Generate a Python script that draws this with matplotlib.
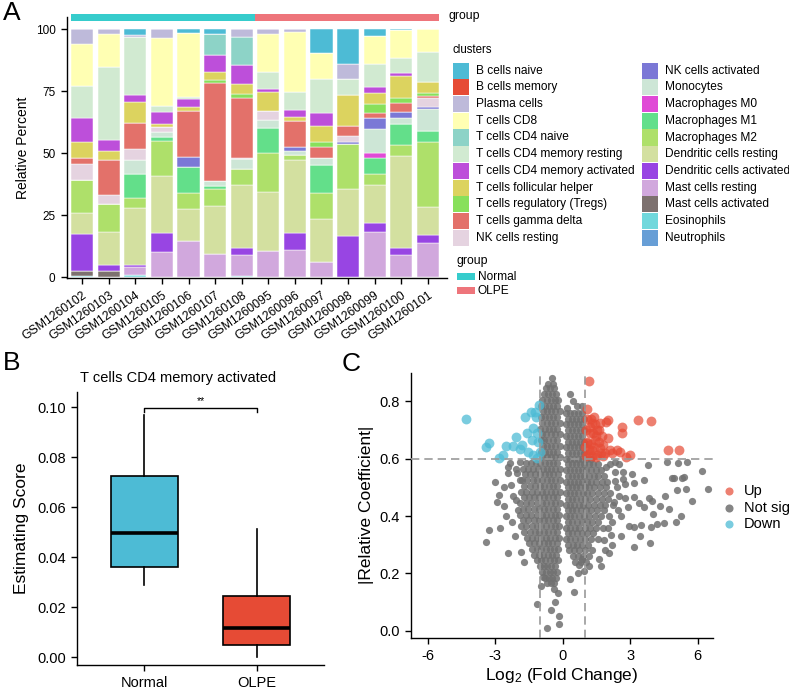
import matplotlib
matplotlib.use('Agg')
import matplotlib.pyplot as plt
import numpy as np
from matplotlib.patches import Rectangle

plt.rcParams['font.family'] = ['Liberation Sans', 'DejaVu Sans']
plt.rcParams['mathtext.default'] = 'regular'

# ---------------- Panel A data ----------------
samples = ['GSM1260102', 'GSM1260103', 'GSM1260104', 'GSM1260105', 'GSM1260106',
           'GSM1260107', 'GSM1260108', 'GSM1260095', 'GSM1260096', 'GSM1260097',
           'GSM1260098', 'GSM1260099', 'GSM1260100', 'GSM1260101']
sample_group = ['Normal'] * 7 + ['OLPE'] * 7

cell_types = ['B cells naive', 'B cells memory', 'Plasma cells', 'T cells CD8',
              'T cells CD4 naive', 'T cells CD4 memory resting',
              'T cells CD4 memory activated', 'T cells follicular helper',
              'T cells regulatory (Tregs)', 'T cells gamma delta', 'NK cells resting',
              'NK cells activated', 'Monocytes', 'Macrophages M0', 'Macrophages M1',
              'Macrophages M2', 'Dendritic cells resting', 'Dendritic cells activated',
              'Mast cells resting', 'Mast cells activated', 'Eosinophils', 'Neutrophils']
cell_colors = ['#4DBBD5', '#E64B35', '#BEBADA', '#FFFFB3', '#8DD3C7', '#D1EAD1',
               '#BD4FDA', '#DCD35F', '#88E05B', '#E3716A', '#E5D3E0', '#7B78D6',
               '#CDE6D6', '#E04AD6', '#63DF8A', '#AEE06A', '#D3E0A0', '#9845E3',
               '#D1A8DD', '#7D716F', '#71D8DC', '#679ED6']

b_naive      = [0, 0, 2.2, 0, 1.3, 2.0, 0, 0, 0, 9.7, 14.0, 2.7, 0.4, 0]
b_memory     = [0] * 14
plasma       = [5.9, 2.0, 0.9, 3.4, 0, 0, 3.1, 2.0, 1.2, 0, 6.2, 0, 0, 0]
cd8          = [16.8, 13.2, 0, 27.6, 26.1, 0, 0, 15.1, 24.1, 10.2, 0, 11.3, 11.3, 9.3]
cd4_naive    = [0, 0, 0, 0, 0, 8.2, 11.4, 0, 0, 0, 0, 0, 0, 0]
cd4_mem_rest = [13.2, 29.6, 23.5, 2.4, 0.8, 0, 0, 7.1, 7.1, 14.0, 6.5, 9.4, 6.0, 12.0]
cd4_mem_act  = [9.7, 4.4, 2.7, 4.8, 3.0, 6.9, 7.5, 1.1, 3.1, 5.1, 0, 2.2, 1.1, 0]
tfh          = [6.2, 3.6, 8.6, 1.3, 1.7, 3.2, 4.0, 7.7, 1.5, 6.5, 12.4, 4.7, 8.9, 4.4]
tregs        = [0, 0, 0, 0, 0, 1.5, 1.7, 0, 0, 2.2, 0, 3.5, 2.2, 1.2]
gamma_delta  = [2.6, 14.2, 10.5, 0, 18.4, 39.5, 24.3, 0, 10.3, 4.2, 3.8, 1.9, 3.5, 0.9]
nk_rest      = [6.5, 3.4, 4.3, 1.9, 0, 0, 0.4, 3.4, 0, 0, 2.7, 0, 0, 3.5]
nk_act       = [0, 0, 0, 0, 4.0, 0, 0, 0, 1.7, 0, 0.7, 4.7, 2.2, 0.9]
monocytes    = [0, 0, 5.5, 1.9, 0, 1.7, 3.8, 3.4, 1.6, 3.0, 0, 9.4, 2.8, 8.7]
mac_m0       = [0, 0, 0, 0, 0, 0, 0, 0, 0, 0, 0, 2.0, 0, 0]
mac_m1       = [0, 0, 9.7, 1.9, 10.5, 1.3, 0, 10.3, 0, 11.2, 0, 6.6, 8.2, 4.4]
mac_m2       = [13.4, 11.4, 4.0, 14.0, 6.6, 6.9, 6.5, 15.6, 2.0, 10.8, 18.3, 4.3, 4.6, 26.2]
dc_rest      = [8.2, 13.2, 23.1, 23.0, 13.0, 19.4, 25.5, 23.8, 29.4, 17.2, 18.8, 15.5, 37.1, 11.3]
dc_act       = [15.1, 2.4, 0.7, 7.7, 0, 0, 3.0, 0, 6.7, 0, 16.8, 3.6, 2.8, 3.1]
mast_rest    = [0, 0, 3.5, 9.9, 14.5, 9.4, 8.1, 10.6, 11.2, 6.2, 0, 18.3, 9.0, 14.0]
mast_act     = [2.0, 2.6, 0, 0, 0, 0, 0, 0, 0, 0, 0, 0, 0, 0]
eosinophils  = [0.5, 0, 0.8, 0.3, 0, 0, 0.7, 0, 0, 0, 0, 0, 0, 0]
neutrophils  = [0] * 14

fractions = [b_naive, b_memory, plasma, cd8, cd4_naive, cd4_mem_rest, cd4_mem_act, tfh,
             tregs, gamma_delta, nk_rest, nk_act, monocytes, mac_m0, mac_m1, mac_m2,
             dc_rest, dc_act, mast_rest, mast_act, eosinophils, neutrophils]
group_colors = {'Normal': '#36CCCC', 'OLPE': '#EE757B'}

# ---------------- Panel B data ----------------
box_groups = ['Normal', 'OLPE']
box_colors = ['#4DBBD5', '#E64B35']
box_whislo = [0.0287, 0.0000]
box_q1     = [0.0360, 0.0047]
box_med    = [0.0496, 0.0115]
box_q3     = [0.0723, 0.0245]
box_whishi = [0.0969, 0.0512]

# ---------------- Panel C data ----------------
up_x = [1.17, 1.07, 1.39, 1.29, 1.66, 2.00, 1.92, 3.35, 3.91, 2.62, 2.62, 2.03, 1.51, 1.21,
        1.43, 1.07, 1.00, 1.66, 2.10, 2.40, 2.55, 2.99, 2.81, 4.69, 5.18, 1.29, 1.81, 1.14,
        1.51, 1.05, 1.20, 1.35, 1.50, 1.10, 1.25, 1.40, 1.60, 1.70, 1.15, 1.30, 1.50, 1.05,
        1.60, 1.80, 1.90, 2.20, 1.45, 1.25, 1.10, 1.75]
up_y = [0.872, 0.772, 0.746, 0.723, 0.723, 0.735, 0.729, 0.735, 0.733, 0.712, 0.691, 0.673,
        0.700, 0.688, 0.665, 0.654, 0.642, 0.636, 0.630, 0.630, 0.624, 0.613, 0.605, 0.630,
        0.632, 0.630, 0.647, 0.618, 0.613, 0.700, 0.710, 0.690, 0.680, 0.660, 0.650, 0.640,
        0.660, 0.620, 0.630, 0.610, 0.605, 0.610, 0.700, 0.610, 0.620, 0.620, 0.720, 0.740,
        0.740, 0.680]
down_x = [-4.30, -3.26, -3.41, -2.84, -2.64, -2.52, -2.08, -2.19, -1.89, -1.60, -1.67, -1.40,
          -1.22, -1.03, -1.18, -1.33, -1.16, -1.38, -1.08, -1.53, -1.30, -1.01, -1.16, -1.82]
down_y = [0.737, 0.656, 0.640, 0.604, 0.613, 0.646, 0.677, 0.644, 0.635, 0.689, 0.746, 0.764,
          0.764, 0.787, 0.746, 0.706, 0.689, 0.665, 0.659, 0.624, 0.613, 0.624, 0.604, 0.648]

# dense grey cloud, read row by row (y level, x positions)
grey_rows = [
    (0.880, [-0.49]),
    (0.860, [-0.64, -0.41]),
    (0.845, [-0.74, -0.55, -0.37]),
    (0.825, [-0.83, -0.66, -0.47, -0.29]),
    (0.805, [-0.90, -0.71, -0.52, -0.34, -0.19]),
    (0.785, [-0.97, -0.79, -0.60, -0.42, -0.24]),
    (0.765, [-0.88, -0.69, -0.51, -0.32, -0.13]),
    (0.745, [-0.98, -0.79, -0.61, -0.42, -0.23]),
    (0.725, [-0.90, -0.71, -0.52, -0.33, -0.12]),
    (0.705, [-0.99, -0.80, -0.62, -0.43, -0.24]),
    (0.685, [-0.91, -0.72, -0.53, -0.34, -0.14]),
    (0.665, [-0.97, -0.81, -0.63, -0.44, -0.25]),
    (0.645, [-0.89, -0.70, -0.52, -0.33, -0.12]),
    (0.625, [-0.98, -0.79, -0.61, -0.42, -0.23]),
    (0.605, [-0.90, -0.71, -0.52, -0.34, -0.13]),
    (0.585, [-1.62, -1.41, -1.20, -0.99, -0.80, -0.61, -0.42, -0.23]),
    (0.565, [-1.75, -1.52, -1.31, -1.10, -0.89, -0.70, -0.51, -0.32, -0.12]),
    (0.545, [-1.66, -1.43, -1.21, -1.00, -0.80, -0.61, -0.42, -0.22]),
    (0.525, [-1.80, -1.57, -1.34, -1.12, -0.91, -0.71, -0.52, -0.33, -0.13]),
    (0.505, [-1.70, -1.47, -1.24, -1.02, -0.81, -0.62, -0.43, -0.23]),
    (0.485, [-1.85, -1.61, -1.37, -1.14, -0.92, -0.72, -0.53, -0.34, -0.14]),
    (0.465, [-1.74, -1.50, -1.26, -1.03, -0.82, -0.63, -0.44, -0.24]),
    (0.445, [-1.88, -1.63, -1.39, -1.15, -0.93, -0.73, -0.53, -0.34, -0.13]),
    (0.425, [-1.76, -1.52, -1.27, -1.04, -0.83, -0.63, -0.44, -0.24]),
    (0.405, [-1.90, -1.64, -1.40, -1.16, -0.94, -0.74, -0.54, -0.35, -0.15]),
    (0.385, [-1.78, -1.53, -1.28, -1.05, -0.84, -0.64, -0.44, -0.25]),
    (0.365, [-1.86, -1.62, -1.38, -1.16, -0.95, -0.74, -0.54, -0.35, -0.15]),
    (0.345, [-1.70, -1.47, -1.25, -1.05, -0.85, -0.65, -0.45, -0.26]),
    (0.325, [-1.58, -1.36, -1.15, -0.95, -0.75, -0.55, -0.36, -0.17]),
    (0.305, [-1.49, -1.26, -1.05, -0.85, -0.66, -0.46, -0.27]),
    (0.285, [-1.38, -1.16, -0.95, -0.76, -0.57, -0.38, -0.19]),
    (0.265, [-1.27, -1.05, -0.86, -0.67, -0.48, -0.29]),
    (0.245, [-1.12, -0.95, -0.77, -0.58, -0.39, -0.22]),
    (0.225, [-0.99, -0.84, -0.68, -0.50, -0.32]),
    (0.205, [-0.90, -0.74, -0.58, -0.41, -0.25]),
    (0.185, [-0.78, -0.62, -0.47, -0.31]),
    (0.165, [-0.68, -0.52, -0.37]),
    (0.826, [0.32]),
    (0.800, [0.44]),
    (0.785, [0.84, 0.62]),
    (0.776, [0.18]),
    (0.760, [0.15, 0.33, 0.51, 0.69, 0.86]),
    (0.740, [0.24, 0.42, 0.60, 0.78, 0.95]),
    (0.720, [0.14, 0.32, 0.50, 0.68, 0.86]),
    (0.700, [0.23, 0.41, 0.59, 0.77, 0.94]),
    (0.680, [0.13, 0.31, 0.49, 0.67, 0.85]),
    (0.660, [0.22, 0.40, 0.58, 0.76, 0.93]),
    (0.640, [0.13, 0.31, 0.49, 0.67, 0.85]),
    (0.620, [0.22, 0.40, 0.58, 0.76, 0.94]),
    (0.600, [0.13, 0.31, 0.49, 0.67, 0.85, 1.05, 1.25]),
    (0.580, [0.22, 0.40, 0.58, 0.76, 0.95, 1.15, 1.36, 1.58]),
    (0.560, [0.13, 0.31, 0.49, 0.67, 0.86, 1.05, 1.26, 1.47, 1.70]),
    (0.540, [0.22, 0.40, 0.58, 0.77, 0.96, 1.16, 1.37, 1.59, 1.84]),
    (0.520, [0.13, 0.31, 0.49, 0.68, 0.87, 1.07, 1.28, 1.50, 1.74]),
    (0.500, [0.22, 0.40, 0.59, 0.78, 0.98, 1.19, 1.41, 1.65, 1.92]),
    (0.480, [0.13, 0.31, 0.50, 0.69, 0.89, 1.10, 1.32, 1.56, 1.82, 2.10]),
    (0.460, [0.22, 0.41, 0.60, 0.80, 1.01, 1.23, 1.47, 1.73, 2.00]),
    (0.440, [0.13, 0.32, 0.51, 0.71, 0.92, 1.14, 1.38, 1.64, 1.90, 2.25]),
    (0.420, [0.22, 0.41, 0.61, 0.82, 1.04, 1.28, 1.54, 1.82]),
    (0.400, [0.13, 0.32, 0.52, 0.73, 0.95, 1.18, 1.43, 1.70, 2.05]),
    (0.380, [0.22, 0.42, 0.62, 0.84, 1.07, 1.32, 1.58]),
    (0.360, [0.13, 0.33, 0.53, 0.74, 0.97, 1.21, 1.47, 1.80]),
    (0.340, [0.22, 0.42, 0.63, 0.85, 1.09, 1.35]),
    (0.320, [0.14, 0.34, 0.54, 0.76, 0.99, 1.24, 1.55]),
    (0.300, [0.23, 0.44, 0.65, 0.88, 1.12]),
    (0.280, [0.30, 0.52, 0.74, 0.98, 1.30]),
    (0.260, [0.45, 0.66, 0.90, 1.15]),
    (0.240, [0.55, 0.80, 1.05]),
]
# scattered grey points away from the dense cloud
grey_sparse_x = [-2.33, -2.44, -2.07, -3.02, -2.84, -2.92, -2.62, -3.27, -3.39, -2.43, -1.84,
                 -2.25, -2.09, -2.28, -2.03, -1.88, -1.14, -0.50, -0.18, -0.16, -0.70, -0.40,
                 -0.21, -0.86, 0.50, 0.34, 0.67, 0.93, 1.70, 0.73, 2.34, 1.94, 2.34, 3.81,
                 4.65, 5.11, 5.51, 6.21, 4.93, 5.41, 5.08, 5.47, 6.47, 5.76, 4.53, 3.82, 3.97,
                 4.34, 4.73, 5.24, 5.02, 4.49, 4.19, 4.01, 3.92, 3.42, 3.19, 3.87, 2.58, 2.16,
                 2.93, 3.17, 3.38, 3.16, 2.76, 2.76, 3.19, 3.60, 3.08, 2.68, 2.31, 1.82, 2.45,
                 2.60, 2.20, 2.00, 2.50, 2.90, 2.40, 2.10, 2.50, 1.90, 2.20, 1.60, 3.60, 3.50,
                 -2.60, -2.20, -2.50, -2.10, -1.70, -2.00, -2.45, -1.90, -2.80, -0.98, -0.35,
                 4.84, 5.31, 2.05, 2.30, 1.95, 2.70, 1.15, 0.85]
grey_sparse_y = [0.586, 0.549, 0.563, 0.520, 0.473, 0.450, 0.435, 0.352, 0.308, 0.270, 0.276,
                 0.380, 0.456, 0.510, 0.549, 0.526, 0.093, 0.072, 0.051, 0.022, 0.009, 0.144,
                 0.130, 0.186, 0.136, 0.179, 0.200, 0.209, 0.226, 0.229, 0.590, 0.570, 0.555,
                 0.578, 0.590, 0.584, 0.590, 0.558, 0.534, 0.535, 0.491, 0.493, 0.495, 0.453,
                 0.469, 0.462, 0.452, 0.436, 0.423, 0.400, 0.380, 0.377, 0.371, 0.407, 0.363,
                 0.330, 0.293, 0.305, 0.330, 0.334, 0.365, 0.363, 0.444, 0.467, 0.462, 0.512,
                 0.514, 0.526, 0.547, 0.555, 0.522, 0.316, 0.420, 0.400, 0.380, 0.360, 0.470,
                 0.430, 0.500, 0.580, 0.580, 0.280, 0.300, 0.250, 0.430, 0.370, 0.500, 0.470,
                 0.400, 0.330, 0.240, 0.420, 0.570, 0.590, 0.360, 0.155, 0.100, 0.531, 0.531,
                 0.270, 0.450, 0.520, 0.530, 0.225, 0.250]

# ---------------- figure ----------------
W, H = 789, 690
fig = plt.figure(figsize=(W / 100, H / 100), dpi=100)


def px_axes(l, t, r, b):
    return fig.add_axes([l / W, 1 - b / H, (r - l) / W, (b - t) / H])


def classic(ax, lw=1.0):
    for s in ['top', 'right']:
        ax.spines[s].set_visible(False)
    for s in ['left', 'bottom']:
        ax.spines[s].set_linewidth(lw)
    ax.tick_params(direction='out', length=4.5, width=lw, colors='black')


# ---- Panel A: stacked bars
axA = px_axes(66.7, 17, 447, 278.3)
xpos = np.arange(len(samples))
frac = np.array(fractions, dtype=float)
frac = frac / frac.sum(axis=0) * 100
bottom = np.zeros(len(samples))
for i in range(len(cell_types) - 1, -1, -1):
    axA.bar(xpos, frac[i], bottom=bottom, width=0.83, color=cell_colors[i],
            edgecolor='white', linewidth=0.35)
    bottom += frac[i]
axA.set_xlim(-0.58, 13.72)
axA.set_ylim(-0.4, 105)
axA.set_yticks([0, 25, 50, 75, 100])
axA.set_yticklabels(['0', '25', '50', '75', '100'], fontsize=8.5)
axA.set_xticks(xpos)
axA.set_xticklabels(samples, rotation=35, ha='right', va='top',
                    rotation_mode='anchor', fontsize=8.8)
axA.set_ylabel('Relative Percent', fontsize=10, labelpad=4)
classic(axA)

# group strip
axG = px_axes(71, 14, 439.5, 21)
for i, g in enumerate(sample_group):
    axG.bar(i, 1, width=1.0, align='edge', color=group_colors[g], linewidth=0)
axG.set_xlim(0, len(samples))
axG.set_ylim(0, 1)
axG.axis('off')

# ---- Panel B: boxplot
axB = px_axes(77, 391.7, 324, 665)
stats = []
for i in range(2):
    stats.append(dict(med=box_med[i], q1=box_q1[i], q3=box_q3[i],
                      whislo=box_whislo[i], whishi=box_whishi[i], fliers=[], label=box_groups[i]))
bp = axB.bxp(stats, positions=[1, 2], widths=0.6, patch_artist=True, showcaps=False,
             showfliers=False,
             boxprops=dict(linewidth=1.2, edgecolor='black'),
             whiskerprops=dict(linewidth=1.2, color='black'),
             medianprops=dict(color='black', linewidth=2.6))
for patch, c in zip(bp['boxes'], box_colors):
    patch.set_facecolor(c)
axB.set_xlim(0.4, 2.6)
axB.set_ylim(-0.0031, 0.1062)
axB.set_yticks([0, 0.02, 0.04, 0.06, 0.08, 0.10])
axB.set_yticklabels(['0.00', '0.02', '0.04', '0.06', '0.08', '0.10'], fontsize=10.5)
axB.set_xticks([1, 2])
axB.set_xticklabels(box_groups, fontsize=10.5)
axB.set_ylabel('Estimating Score', fontsize=12.5, labelpad=6)
classic(axB)
# significance bracket
axB.plot([1, 1, 2, 2], [0.0980, 0.0998, 0.0998, 0.0980], color='black', lw=1.0)
axB.text(1.5, 0.1003, '**', ha='center', va='bottom', fontsize=7.5)

# ---- Panel C: volcano
axC = px_axes(411, 372.7, 713, 637.7)
gx = [x for y, xs in grey_rows for x in xs] + grey_sparse_x
gy = [y for y, xs in grey_rows for x in xs] + grey_sparse_y
axC.scatter(gx, gy, s=27, color='#707070', alpha=0.85, linewidths=0, zorder=2)
axC.scatter(up_x, up_y, s=50, color='#E64B35', alpha=0.7, linewidths=0, zorder=3)
axC.scatter(down_x, down_y, s=50, color='#4DBBD5', alpha=0.75, linewidths=0, zorder=3)
for xv in (-1, 1):
    axC.axvline(xv, color='#999999', lw=1.2, ls=(0, (5, 3)), zorder=4)
axC.axhline(0.6, color='#999999', lw=1.2, ls=(0, (5, 3)), zorder=4)
axC.set_xlim(-6.74, 6.68)
axC.set_ylim(-0.0244, 0.90)
axC.set_xticks([-6, -3, 0, 3, 6])
axC.set_xticklabels(['-6', '-3', '0', '3', '6'], fontsize=10.5)
axC.set_yticks([0, 0.2, 0.4, 0.6, 0.8])
axC.set_yticklabels(['0.0', '0.2', '0.4', '0.6', '0.8'], fontsize=10.5)
axC.set_xlabel('Log$_2$ (Fold Change)', fontsize=12.5, labelpad=2)
axC.set_ylabel('|Relative Coefficient|', fontsize=12.5, labelpad=4)
classic(axC)

# ---- overlay for legends / labels (pixel coordinates)
ov = fig.add_axes([0, 0, 1, 1], zorder=10)
ov.set_xlim(0, W)
ov.set_ylim(H, 0)
ov.axis('off')
ov.patch.set_alpha(0)

ov.text(3, 13, 'A', fontsize=19, ha='left', va='center')
ov.text(3, 363, 'B', fontsize=19, ha='left', va='center')
ov.text(342, 364, 'C', fontsize=19, ha='left', va='center')
ov.text(178, 378, 'T cells CD4 memory activated', fontsize=10.5, ha='center', va='center')

# panel A legends
ov.text(449, 16.5, 'group', fontsize=8.8, ha='left', va='center')
ov.text(453, 50, 'clusters', fontsize=8.3, ha='left', va='center')
for i, (name, col) in enumerate(zip(cell_types, cell_colors)):
    c = i // 11
    r = i % 11
    kx = 453 if c == 0 else 641.7
    ky = 70.7 + r * 16.7
    ov.add_patch(Rectangle((kx, ky - 8.1), 16.5, 16.2, facecolor=col, edgecolor='none'))
    ov.text(kx + 23.5, ky, name, fontsize=8.6, ha='left', va='center')
ov.text(457, 261, 'group', fontsize=8.8, ha='left', va='center')
for j, g in enumerate(['Normal', 'OLPE']):
    ky = 276.7 + j * 14
    ov.add_patch(Rectangle((457, ky - 3.5), 18.5, 7, facecolor=group_colors[g], edgecolor='none'))
    ov.text(478, ky, g, fontsize=8.6, ha='left', va='center')

# panel C legend
for j, (lab, col, a) in enumerate([('Up', '#E64B35', 0.7), ('Not sig', '#707070', 0.85),
                                   ('Down', '#4DBBD5', 0.75)]):
    ky = 491 + j * 16.7
    ov.scatter([729], [ky], s=34, color=col, alpha=a, linewidths=0)
    ov.text(744, ky, lab, fontsize=10.5, ha='left', va='center')

fig.savefig('out.png', dpi=100)
